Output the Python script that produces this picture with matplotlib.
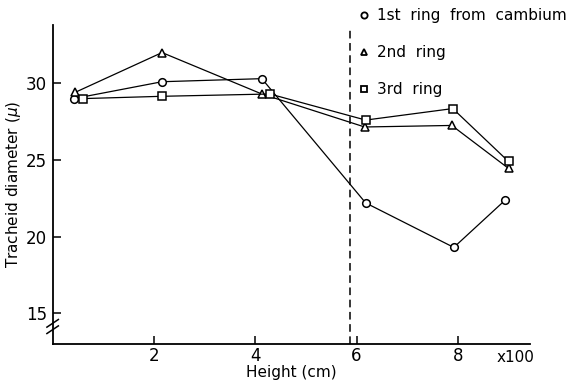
import numpy as np
import matplotlib
matplotlib.use('Agg')
import matplotlib.pyplot as plt
from matplotlib.lines import Line2D

# --- datos ---
altura_1 = [0.42, 2.16, 4.13, 6.18, 7.92, 8.94]
diam_1 = [29.0, 30.1, 30.3, 22.2, 19.3, 22.4]

altura_2 = [0.44, 2.16, 4.13, 6.16, 7.88, 9.0]
diam_2 = [29.4, 32.0, 29.3, 27.15, 27.25, 24.45]

altura_3 = [0.6, 2.16, 4.29, 6.18, 7.9, 9.0]
diam_3 = [29.0, 29.15, 29.3, 27.6, 28.35, 24.9]

etiquetas = ['1st  ring  from  cambium', '2nd  ring', '3rd  ring']
marcadores = ['o', '^', 's']
limite = 5.88

plt.rcParams['font.family'] = 'DejaVu Sans'

fig = plt.figure(figsize=(5.66, 3.84), dpi=100)
ax = fig.add_axes([0.093, 0.104, 0.843, 0.831])

series = [(altura_1, diam_1), (altura_2, diam_2), (altura_3, diam_3)]
for (x, y), m in zip(series, marcadores):
    ax.plot(x, y, color='black', lw=0.9, marker=m, ms=5.5,
            mfc='white', mec='black', mew=1.1, zorder=3)

ax.axvline(limite, ymax=0.99, color='black', lw=1.1, ls=(0, (5, 3)))

ax.set_xlim(0, 9.42)
ax.set_ylim(13, 33.8)
ax.set_xticks([2, 4, 6, 8])
ax.set_yticks([15, 20, 25, 30])
ax.tick_params(direction='in', length=6, width=1.1, labelsize=12)
ax.tick_params(axis='x', pad=2)
ax.tick_params(axis='y', pad=4)
for s in ['top', 'right']:
    ax.spines[s].set_visible(False)
for s in ['left', 'bottom']:
    ax.spines[s].set_linewidth(1.3)

ax.set_xlabel('Height (cm)', fontsize=11, labelpad=0)
ax.set_ylabel('Tracheid diameter ($\\mu$)', fontsize=11, labelpad=2)

# x100 al final del eje
ax.annotate('x100', xy=(1, 0), xycoords='axes fraction', xytext=(-24, -10),
            textcoords='offset points', fontsize=11, ha='left', va='center')

# marca de corte del eje y
for dy in (0.045, 0.065):
    ax.plot([-0.012, 0.012], [dy - 0.012, dy + 0.012], color='black', lw=1.1,
            transform=ax.transAxes, clip_on=False)

handles = [Line2D([], [], ls='none', marker=m, ms=4.5, mfc='white',
                  mec='black', mew=1.3) for m in marcadores]
ax.legend(handles, etiquetas, loc='upper left', bbox_to_anchor=(0.622, 0.995),
          bbox_transform=fig.transFigure, frameon=False, fontsize=11,
          handlelength=0.8, handletextpad=0.45, labelspacing=1.45,
          borderaxespad=0)

fig.savefig('out.png', dpi=100)
